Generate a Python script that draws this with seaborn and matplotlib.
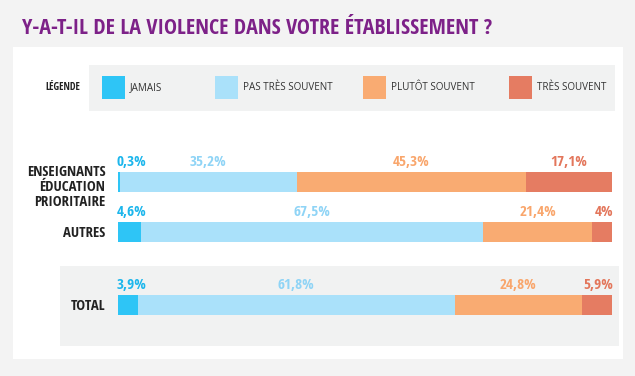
import matplotlib
matplotlib.use('Agg')
import matplotlib.pyplot as plt
import matplotlib.transforms as mtransforms
from matplotlib.patches import Rectangle
import numpy as np
import pandas as pd
import seaborn as sns

# Données (pourcentages)
reponses = ['JAMAIS', 'PAS TRÈS SOUVENT', 'PLUTÔT SOUVENT', 'TRÈS SOUVENT']
groupes = ['ENSEIGNANTS\nÉDUCATION\nPRIORITAIRE', 'AUTRES']
groupe_total = ['TOTAL']
valeurs_groupes = [
    [0.3, 35.2, 45.3, 17.1],
    [4.6, 67.5, 21.4, 4.0],
]
valeurs_total = [[3.9, 61.8, 24.8, 5.9]]

couleurs = ['#2ec5f6', '#aae1fa', '#f9ab72', '#e57c62']
couleurs_texte = ['#1cb6ec', '#8fd4f6', '#f9a66c', '#e3765b']

W, H = 635, 376
FONT = ['Open Sans Condensed', 'DejaVu Sans']

sns.set_theme(style='white')
plt.rcParams['font.family'] = FONT
plt.rcParams['font.weight'] = 'bold'


def fx(x):
    return x / W


def fy(y):
    return 1 - y / H


def box(fig, x0, y0, x1, y1, color):
    fig.add_artist(Rectangle((fx(x0), fy(y1)), fx(x1 - x0), (y1 - y0) / H,
                             transform=fig.transFigure, color=color, lw=0, zorder=0))


def stacked(ax, noms, valeurs):
    vals = np.array(valeurs, dtype=float)
    norm = vals / vals.sum(axis=1, keepdims=True) * 100
    cumul = norm.cumsum(axis=1)
    df = pd.DataFrame(cumul, columns=reponses)
    df['groupe'] = noms
    # couches du plus large au plus court pour l'empilement
    for j in range(len(reponses) - 1, -1, -1):
        sns.barplot(data=df, x=reponses[j], y='groupe', orient='h', color=couleurs[j],
                    width=0.4, ax=ax, saturation=1, linewidth=0)
    for i in range(len(noms)):
        for j in range(len(reponses)):
            debut = cumul[i, j] - norm[i, j]
            larg = norm[i, j]
            txt = f"{vals[i, j]:g}".replace('.', ',') + '%'
            if j == 0 and larg < 8:
                xpos, ha = debut - 0.3, 'left'
            elif j == len(reponses) - 1 and larg < 8:
                xpos, ha = 100.3, 'right'
            else:
                xpos, ha = debut + larg / 2, 'center'
            ax.text(xpos, i - 0.4, txt, ha=ha, va='center', color=couleurs_texte[j],
                    fontsize=11, fontweight='bold')
    ax.set_xlim(0, 100)
    ax.set_ylim(len(noms) - 0.5, -0.5)
    ax.set_xlabel('')
    ax.set_ylabel('')
    ax.set_xticks([])
    ax.tick_params(axis='y', length=0, pad=9)
    for lab in ax.get_yticklabels():
        lab.set_fontweight('bold')
        lab.set_fontsize(10.6)
        lab.set_color('#222222')
        lab.set_linespacing(1.12)
        if '\n' in lab.get_text():
            lab.set_transform(lab.get_transform() +
                              mtransforms.ScaledTranslation(0, -3 / 100, ax.figure.dpi_scale_trans))
    sns.despine(ax=ax, left=True, bottom=True)
    ax.patch.set_alpha(0)


fig = plt.figure(figsize=(W / 100, H / 100), dpi=100)
fig.patch.set_facecolor('#f3f3f3')

box(fig, 13, 47, 623, 359, 'white')
box(fig, 89, 65, 615, 111, '#f1f2f2')
box(fig, 60, 266, 619, 346, '#f1f2f2')

fig.text(fx(22), fy(28), 'Y-A-T-IL DE LA VIOLENCE DANS VOTRE ÉTABLISSEMENT ?',
         color='#7d2188', fontsize=15.8, fontweight='bold', va='center', ha='left')

# légende
fig.text(fx(80), fy(88), 'LÉGENDE', fontsize=7.4, fontweight='bold', color='#222222',
         ha='right', va='center')
leg_x = [102, 215, 363, 509]
for j, nom in enumerate(reponses):
    box(fig, leg_x[j], 76, leg_x[j] + 23, 99, couleurs[j])
    fig.text(fx(leg_x[j] + 28), fy(88), nom, fontsize=7.1, color='#333333',
             family=['Open Sans', 'DejaVu Sans'], fontweight='normal',
             ha='left', va='center')

ax1 = fig.add_axes([fx(118), fy(257), fx(612 - 118), 100 / H])
stacked(ax1, groupes, valeurs_groupes)

ax2 = fig.add_axes([fx(118), fy(330), fx(612 - 118), 50 / H])
stacked(ax2, groupe_total, valeurs_total)

fig.savefig('out.png', dpi=100, facecolor=fig.get_facecolor())
